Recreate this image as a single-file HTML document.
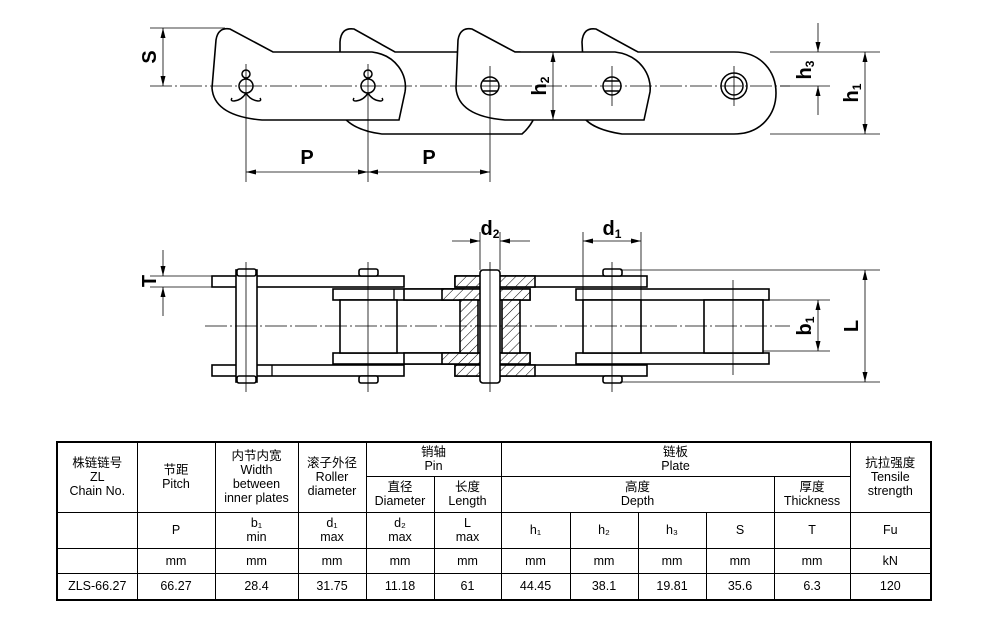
<!DOCTYPE html>
<html><head><meta charset="utf-8"><style>
html,body{margin:0;padding:0;background:#fff}
body{width:1006px;height:629px;position:relative;overflow:hidden;font-family:"Liberation Sans","Noto Sans CJK SC",sans-serif}
svg{position:absolute;left:0;top:0}
table{position:absolute;left:56px;top:441px;width:876px;table-layout:fixed;border-collapse:collapse;font-size:12.5px;line-height:14px;text-align:center;border:2px solid #000}
td{border:1px solid #000;padding:0;vertical-align:middle;overflow:hidden}
</style></head><body>
<svg width="1006" height="440" viewBox="0 0 1006 440" font-family="Liberation Sans, sans-serif" font-weight="bold">
<defs>
<marker id="a" viewBox="0 0 10 6" refX="10" refY="3" markerWidth="10" markerHeight="6" orient="auto-start-reverse" markerUnits="userSpaceOnUse"><path d="M0,0.5 L10,3 L0,5.5 Z" fill="#000"/></marker>
<pattern id="h" width="7" height="7" patternUnits="userSpaceOnUse" patternTransform="rotate(45)"><rect width="7" height="7" fill="#fff"/><line x1="0" y1="0" x2="0" y2="7" stroke="#000" stroke-width="1"/></pattern>
</defs>
<g stroke="#000" fill="#fff" stroke-width="1.6">
<path d="M340,42 Q341,27 354,29 L395,52 L520,52 C545,62 548,112 522,134 L382,134 Q350,130 340,112 Z"/>
<path d="M582,42 Q583,27 596,29 L638,52 L734,52 C790,52 790,134 734,134 L622,134 Q596,130 586,120 Z"/>
<path d="M216,40 Q218,27 230,29 L273,52 L372,52 C396,55 408,75 405,92 L399,120 L262,120 Q214,116 212,88 Z"/>
<path d="M458,40 Q460,27 472,29 L515,52 L615,52 C640,55 652,75 650,92 L644,120 L505,120 Q458,116 456,88 Z"/>
</g>
<g stroke="#000" fill="none" stroke-width="1.5">
<circle cx="246" cy="86" r="7"/><circle cx="246" cy="74" r="4"/>
<path d="M246,93 Q242,100 234,101 Q230,101 232,98 M246,93 Q250,100 258,101 Q262,101 260,98"/>
<circle cx="368" cy="86" r="7"/><circle cx="368" cy="74" r="4"/>
<path d="M368,93 Q364,100 356,101 Q352,101 354,98 M368,93 Q372,100 380,101 Q384,101 382,98"/>
<circle cx="490" cy="86" r="9"/><line x1="483" y1="81" x2="497" y2="81"/><line x1="483" y1="91" x2="497" y2="91"/>
<circle cx="612" cy="86" r="9"/><line x1="605" y1="81" x2="619" y2="81"/><line x1="605" y1="91" x2="619" y2="91"/>
<circle cx="734" cy="86" r="13"/><circle cx="734" cy="86" r="9"/>
</g>
<g stroke="#000" stroke-width="0.8" fill="none">
<line x1="150" y1="86" x2="790" y2="86" stroke-dasharray="22,3,2,3"/>
<line x1="246" y1="64" x2="246" y2="182"/><line x1="368" y1="64" x2="368" y2="182"/><line x1="490" y1="66" x2="490" y2="182"/>
<line x1="612" y1="66" x2="612" y2="106"/><line x1="734" y1="66" x2="734" y2="106"/>
<line x1="150" y1="28" x2="225" y2="28"/>
<line x1="163" y1="28" x2="163" y2="86" marker-start="url(#a)" marker-end="url(#a)"/>
<line x1="246" y1="172" x2="368" y2="172" marker-start="url(#a)" marker-end="url(#a)"/>
<line x1="368" y1="172" x2="490" y2="172" marker-start="url(#a)" marker-end="url(#a)"/>
<line x1="553" y1="52" x2="553" y2="120" marker-start="url(#a)" marker-end="url(#a)"/>
<line x1="770" y1="52" x2="880" y2="52"/><line x1="770" y1="134" x2="880" y2="134"/><line x1="780" y1="86" x2="830" y2="86"/>
<line x1="818" y1="23" x2="818" y2="52" marker-end="url(#a)"/>
<line x1="818" y1="115" x2="818" y2="86" marker-end="url(#a)"/>
<line x1="865" y1="52" x2="865" y2="134" marker-start="url(#a)" marker-end="url(#a)"/>
</g>
<g font-size="20" fill="#000">
<text x="307" y="164" text-anchor="middle">P</text><text x="429" y="164" text-anchor="middle">P</text>
<text transform="translate(156,57) rotate(-90)" text-anchor="middle">S</text>
<text transform="translate(546,86) rotate(-90)" text-anchor="middle">h<tspan font-size="12" dy="3">2</tspan></text>
<text transform="translate(811,70) rotate(-90)" text-anchor="middle">h<tspan font-size="12" dy="3">3</tspan></text>
<text transform="translate(858,93) rotate(-90)" text-anchor="middle">h<tspan font-size="12" dy="3">1</tspan></text>
<text transform="translate(156,281) rotate(-90)" text-anchor="middle">T</text>
<text transform="translate(811,326) rotate(-90)" text-anchor="middle">b<tspan font-size="12" dy="3">1</tspan></text>
<text transform="translate(858,326) rotate(-90)" text-anchor="middle">L</text>
<text x="490" y="235" text-anchor="middle">d<tspan font-size="12" dy="3">2</tspan></text>
<text x="612" y="235" text-anchor="middle">d<tspan font-size="12" dy="3">1</tspan></text>
</g>
<g stroke="#000" stroke-width="1.6" fill="#fff">
<rect x="333" y="289" width="197" height="11"/><rect x="333" y="353" width="197" height="11"/>
<rect x="404" y="289" width="60" height="11"/><rect x="404" y="353" width="60" height="11"/>
<rect x="576" y="289" width="193" height="11"/><rect x="576" y="353" width="193" height="11"/>
<rect x="212" y="276" width="192" height="11"/><rect x="212" y="365" width="192" height="11"/>
<rect x="455" y="276" width="192" height="11"/><rect x="455" y="365" width="192" height="11"/>
<rect x="455" y="276" width="80" height="11" fill="url(#h)"/><rect x="455" y="365" width="80" height="11" fill="url(#h)"/>
<rect x="442" y="289" width="88" height="11" fill="url(#h)"/><rect x="442" y="353" width="88" height="11" fill="url(#h)"/>
<rect x="340" y="300" width="57" height="53"/>
<rect x="583" y="300" width="58" height="53"/><rect x="704" y="300" width="59" height="53"/>
<rect x="460" y="300" width="18" height="53" fill="url(#h)"/><rect x="502" y="300" width="18" height="53" fill="url(#h)"/>
<rect x="236" y="270" width="21" height="112"/>
<rect x="480" y="270" width="20" height="113" rx="3"/>
<rect x="237" y="269" width="19" height="7" rx="2"/><rect x="237" y="376" width="19" height="7" rx="2"/>
<rect x="359" y="269" width="19" height="7" rx="2"/><rect x="359" y="376" width="19" height="7" rx="2"/>
<rect x="603" y="269" width="19" height="7" rx="2"/><rect x="603" y="376" width="19" height="7" rx="2"/>
</g>
<g stroke="#000" stroke-width="1.3" fill="none">
<line x1="272" y1="365" x2="272" y2="376"/><line x1="394" y1="289" x2="394" y2="300"/>
</g>
<g stroke="#000" stroke-width="0.8" fill="none">
<line x1="205" y1="326" x2="790" y2="326" stroke-dasharray="22,3,2,3"/>
<line x1="246" y1="262" x2="246" y2="392"/><line x1="368" y1="262" x2="368" y2="392"/>
<line x1="490" y1="262" x2="490" y2="392"/><line x1="612" y1="262" x2="612" y2="392"/><line x1="733" y1="280" x2="733" y2="375"/>
<line x1="150" y1="276" x2="212" y2="276"/><line x1="150" y1="287" x2="212" y2="287"/>
<line x1="163" y1="250" x2="163" y2="276" marker-end="url(#a)"/><line x1="163" y1="316" x2="163" y2="287" marker-end="url(#a)"/>
<line x1="480" y1="232" x2="480" y2="270"/><line x1="500" y1="232" x2="500" y2="270"/>
<line x1="452" y1="241" x2="480" y2="241" marker-end="url(#a)"/><line x1="530" y1="241" x2="500" y2="241" marker-end="url(#a)"/>
<line x1="583" y1="232" x2="583" y2="300"/><line x1="641" y1="232" x2="641" y2="300"/>
<line x1="583" y1="241" x2="641" y2="241" marker-start="url(#a)" marker-end="url(#a)"/>
<line x1="620" y1="270" x2="880" y2="270"/><line x1="620" y1="382" x2="880" y2="382"/>
<line x1="763" y1="300" x2="830" y2="300"/><line x1="763" y1="351" x2="830" y2="351"/>
<line x1="818" y1="300" x2="818" y2="351" marker-start="url(#a)" marker-end="url(#a)"/>
<line x1="865" y1="270" x2="865" y2="382" marker-start="url(#a)" marker-end="url(#a)"/>
</g>
</svg>
<table>
<colgroup><col style="width:80px"><col style="width:78px"><col style="width:83px"><col style="width:68px"><col style="width:68px"><col style="width:67px"><col style="width:69px"><col style="width:68px"><col style="width:68px"><col style="width:68px"><col style="width:76px"><col style="width:81px"></colgroup>
<tr style="height:34px"><td rowspan="2">株链链号<br>ZL<br>Chain No.</td><td rowspan="2">节距<br>Pitch</td><td rowspan="2">内节内宽<br>Width<br>between<br>inner plates</td><td rowspan="2">滚子外径<br>Roller<br>diameter</td><td colspan="2">销轴<br>Pin</td><td colspan="5">链板<br>Plate</td><td rowspan="2">抗拉强度<br>Tensile<br>strength</td></tr>
<tr style="height:36px"><td>直径<br>Diameter</td><td>长度<br>Length</td><td colspan="4">高度<br>Depth</td><td>厚度<br>Thickness</td></tr>
<tr style="height:36px"><td></td><td>P</td><td>b₁<br>min</td><td>d₁<br>max</td><td>d₂<br>max</td><td>L<br>max</td><td>h₁</td><td>h₂</td><td>h₃</td><td>S</td><td>T</td><td>Fu</td></tr>
<tr style="height:25px"><td></td><td>mm</td><td>mm</td><td>mm</td><td>mm</td><td>mm</td><td>mm</td><td>mm</td><td>mm</td><td>mm</td><td>mm</td><td>kN</td></tr>
<tr style="height:27px"><td>ZLS-66.27</td><td>66.27</td><td>28.4</td><td>31.75</td><td>11.18</td><td>61</td><td>44.45</td><td>38.1</td><td>19.81</td><td>35.6</td><td>6.3</td><td>120</td></tr>
</table>
</body></html>
